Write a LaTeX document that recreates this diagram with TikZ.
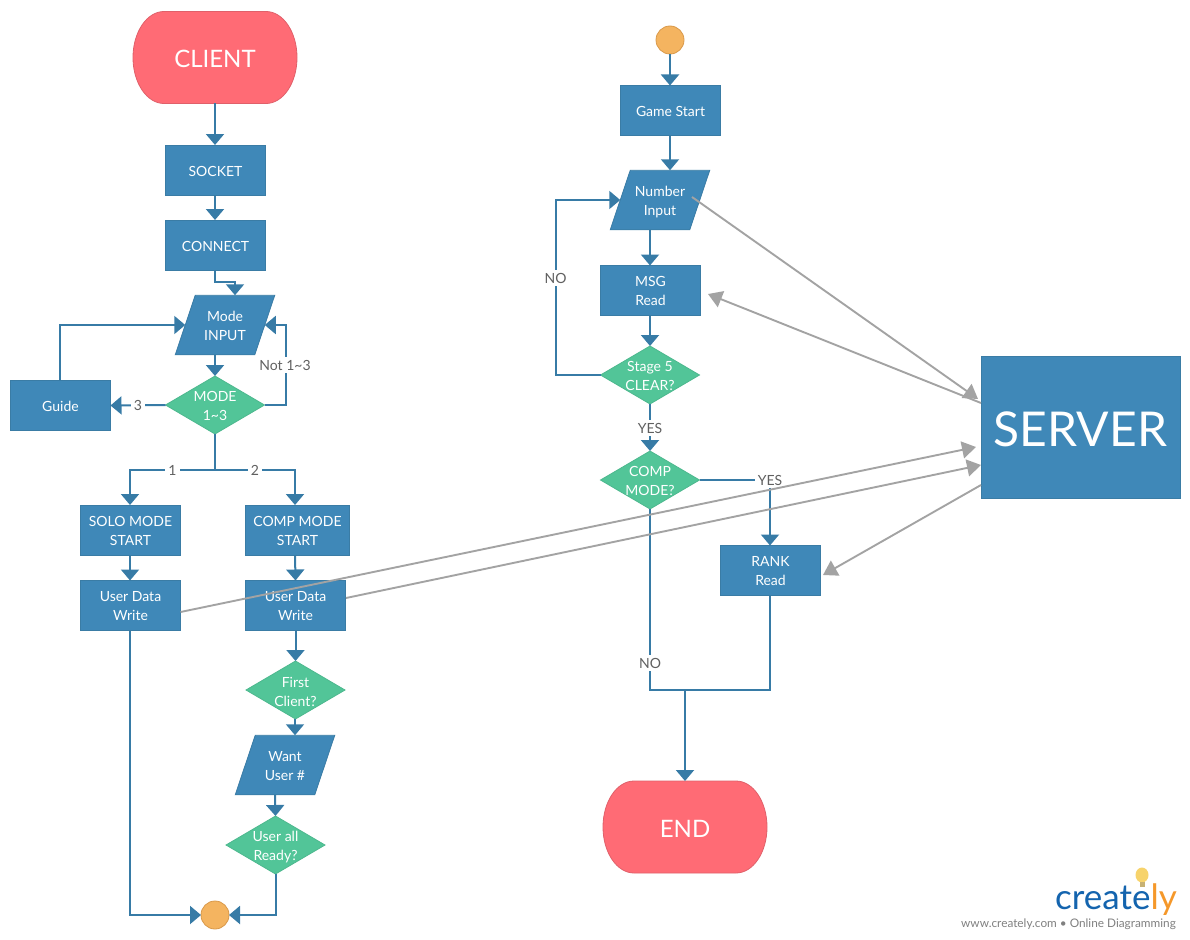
\documentclass[tikz,border=0pt]{standalone}
\usepackage{fontspec}
\setmainfont{Lato}
\usetikzlibrary{arrows.meta,shapes.geometric}
\definecolor{boxblue}{HTML}{3F88B8}
\definecolor{boxedge}{HTML}{3A7CA5}
\definecolor{linkblue}{HTML}{377BA6}
\definecolor{decgreen}{HTML}{52C598}
\definecolor{decedge}{HTML}{4DB88E}
\definecolor{termred}{HTML}{FF6B75}
\definecolor{termedge}{HTML}{E0606A}
\definecolor{dotorange}{HTML}{F4B460}
\definecolor{dotedge}{HTML}{D9994A}
\definecolor{greyline}{HTML}{A3A3A3}
\definecolor{labelgrey}{HTML}{606060}
\definecolor{logoblue}{HTML}{1464AE}
\definecolor{logoorange}{HTML}{F5982A}
\definecolor{bulb}{HTML}{F7D36B}
\newcommand\twol[3][-6pt]{\raisebox{#1}[0pt][0pt]{\begin{tabular}[c]{@{}c@{}}#2\\#3\end{tabular}}}
\newdimen\shpxa \newdimen\shpya \newdimen\shpxb \newdimen\shpyb
\makeatletter
\pgfdeclareshape{paragram}{
  \inheritsavedanchors[from=rectangle]
  \inheritanchorborder[from=rectangle]
  \inheritanchor[from=rectangle]{center}
  \inheritanchor[from=rectangle]{north}
  \inheritanchor[from=rectangle]{south}
  \inheritanchor[from=rectangle]{east}
  \inheritanchor[from=rectangle]{west}
  \backgroundpath{
    \southwest \shpxa=\pgf@x \shpya=\pgf@y
    \northeast \shpxb=\pgf@x \shpyb=\pgf@y
    \pgfpathmoveto{\pgfqpoint{\shpxa}{\shpya}}
    \pgfpathlineto{\pgfpoint{\shpxa+20pt}{\shpyb}}
    \pgfpathlineto{\pgfqpoint{\shpxb}{\shpyb}}
    \pgfpathlineto{\pgfpoint{\shpxb-20pt}{\shpya}}
    \pgfpathclose
  }
}
\pgfdeclareshape{termshape}{
  \inheritsavedanchors[from=rectangle]
  \inheritanchorborder[from=rectangle]
  \inheritanchor[from=rectangle]{center}
  \inheritanchor[from=rectangle]{north}
  \inheritanchor[from=rectangle]{south}
  \inheritanchor[from=rectangle]{east}
  \inheritanchor[from=rectangle]{west}
  \backgroundpath{
    \southwest \shpxa=\pgf@x \shpya=\pgf@y
    \northeast \shpxb=\pgf@x \shpyb=\pgf@y
    \pgfpathmoveto{\pgfpoint{\shpxa+31pt}{\shpyb}}
    \pgfpathlineto{\pgfpoint{\shpxb-31pt}{\shpyb}}
    \pgfpatharc{90}{-90}{31pt and 46pt}
    \pgfpathlineto{\pgfpoint{\shpxa+31pt}{\shpya}}
    \pgfpatharc{270}{90}{31pt and 46pt}
    \pgfpathclose
  }
}
\makeatother
\tikzset{
  dropby/.style={execute at begin node={\rule{0pt}{#1}}},
  basenode/.style={inner sep=0pt,outer sep=0pt,text=white,font=\fontsize{14}{19}\selectfont,line width=0.8pt},
  stepbox/.style={basenode,rectangle,fill=boxblue,draw=boxedge,minimum width=#1,minimum height=50pt},
  stepbox/.default=100pt,
  iobox/.style={basenode,shape=paragram,fill=boxblue,draw=boxedge,minimum width=99.5pt,minimum height=59.5pt},
  decbox/.style={basenode,diamond,aspect=1.7,fill=decgreen,draw=decedge,minimum width=99pt,minimum height=58pt},
  termbox/.style={basenode,shape=termshape,fill=termred,draw=termedge,minimum width=164pt,minimum height=92pt,font=\fontsize{24}{30}\selectfont,dropby=21pt},
  dotbox/.style={circle,inner sep=0pt,outer sep=0pt,minimum size=28pt,fill=dotorange,draw=dotedge,line width=0.8pt},
  link/.style={draw=linkblue,line width=2pt,-{Triangle[width=18pt,length=11pt]}},
  plainlink/.style={draw=linkblue,line width=2pt},
  greylink/.style={draw=greyline,line width=1.9pt,-{Triangle[width=17pt,length=14pt]}},
  linklabel/.style={inner sep=3pt,fill=white,text=labelgrey,font=\fontsize{14}{17}\selectfont},
}
\begin{document}
\begin{tikzpicture}[x=1pt,y=-1pt]
\useasboundingbox (0,0) rectangle (1190,939);
% left column nodes
\node[termbox] (client) at (215,57.5) {CLIENT};
\node[stepbox,dropby=13pt] (socket) at (215.5,170) {SOCKET};
\node[stepbox,dropby=13pt] (connect) at (215.5,245) {CONNECT};
\node[iobox] (mode) at (225,325) {\twol{Mode}{INPUT}};
\node[decbox] (mode13) at (215,405) {\twol{MODE}{1\textasciitilde 3}};
\node[stepbox,dropby=13pt] (guide) at (60.5,405.5) {Guide};
\node[stepbox] (solo) at (130.5,530) {\twol{SOLO MODE}{START}};
\node[stepbox=104pt] (comp) at (297.5,530) {\twol{COMP MODE}{START}};
\node[stepbox] (write1) at (130.5,605.5) {\twol[-5pt]{User Data}{Write}};
\node[stepbox] (write2) at (295.5,605.5) {\twol[-5pt]{User Data}{Write}};
\node[decbox] (first) at (295.5,690) {\twol[-7pt]{First}{Client?}};
\node[iobox] (want) at (285,765) {\twol{Want}{User \#}};
\node[decbox] (ready) at (275.5,845) {\twol{User all}{Ready?}};
\node[dotbox] (join) at (215,915) {};
% right column nodes
\node[dotbox] (startdot) at (670,40) {};
\node[stepbox,dropby=13pt] (game) at (670.5,110.5) {Game Start};
\node[iobox] (number) at (660,200) {\twol{Number}{Input}};
\node[stepbox] (msg) at (650.5,290.5) {\twol[-5pt]{MSG}{Read}};
\node[decbox] (stage) at (650,375) {\twol{Stage 5}{CLEAR?}};
\node[decbox] (compmode) at (650,480) {\twol{COMP}{MODE?}};
\node[stepbox] (rank) at (770.5,570.5) {\twol[-5pt]{RANK}{Read}};
\node[termbox] (endnode) at (685,827) {END};
\node[basenode,rectangle,fill=boxblue,draw=boxedge,minimum width=199pt,minimum height=142pt,font=\fontsize{48}{56}\selectfont,dropby=39pt] (server) at (1080.5,427) {SERVER};
% connectors, left column
\draw[link] (client.south) -- (socket.north -| client.south);
\draw[link] (socket.south -| client.south) -- (connect.north -| client.south);
\draw[link] (connect.south -| client.south) |- ([yshift=13pt,xshift=10pt]mode.north) -- ([xshift=10pt]mode.north);
\draw[link] ([xshift=-10pt]mode.south) -- (mode13.north);
\draw[link] (mode13.west) -- (guide.east);
\draw[link] ([xshift=-0.5pt]guide.north) |- ([xshift=10pt]mode.west);
\draw[link] (mode13.east) -- ++(21,0) |- ([xshift=-10pt]mode.east);
\coordinate (fork) at ([yshift=-36pt]mode13.south);
\draw[plainlink] (mode13.south) -- (fork);
\draw[link] (fork) -| ([xshift=-0.5pt]solo.north);
\draw[link] (fork) -| ([xshift=-2.5pt]comp.north);
\draw[link] ([xshift=-0.5pt]solo.south) -- ([xshift=-0.5pt]write1.north);
\draw[link] ([xshift=-2.5pt]comp.south) -- (write2.north);
\draw[link] (write2.south) -- (first.north);
\draw[link] ([xshift=-0.5pt]first.south) -- ([xshift=10pt]want.north);
\draw[link] ([xshift=-10pt]want.south) -- (ready.north);
\draw[link] (ready.south) -- ++(0,12) -- ++(0.5,0) |- (join.east);
\draw[link] ([xshift=-0.5pt]write1.south) |- (join.west);
% connectors, right column
\draw[link] (startdot.south) -- (game.north -| startdot.south);
\draw[link] (game.south -| startdot.south) -- (number.north -| startdot.south);
\draw[link] ([xshift=-10pt]number.south) -- (msg.north -| stage.north);
\draw[link] (msg.south -| stage.north) -- (stage.north);
\draw[link] (stage.west) -- ++(-45,0) |- ([xshift=10pt]number.west);
\draw[link] (stage.south) -- (compmode.north);
\draw[link] (compmode.east) -| ([xshift=-0.5pt]rank.north);
\coordinate (merge) at ([yshift=-94pt,xshift=-0.5pt]rank.south);
\draw[plainlink] ([xshift=-0.5pt]rank.south) -- (merge) -- (merge -| compmode.south) -- (compmode.south);
\draw[link] (merge -| endnode.north) -- (endnode.north);
% labels
\node[linklabel] (l3) at (138,405) {3};
\node[linklabel] (lnot) at (285,365) {Not 1\textasciitilde 3};
\node[linklabel] (l1) at (172.5,470) {1};
\node[linklabel] (l2) at (255,470) {2};
\node[linklabel] (lno1) at (555.5,278) {NO};
\node[linklabel] (lyes1) at (650,428) {YES};
\node[linklabel] (lyes2) at (770,480) {YES};
\node[linklabel] (lno2) at (650,663) {NO};
% server links
\coordinate (numout) at (692,197);
\coordinate (srvA) at (978,399);
\coordinate (srvB) at (981,403);
\coordinate (msgin) at (708,294);
\coordinate (srvC) at (976,447);
\coordinate (srvD) at (981,465);
\coordinate (w2out) at (346,598);
\coordinate (srvE) at (981,485);
\coordinate (rankin) at (823,575);
\draw[greylink] (numout) -- (srvA);
\draw[greylink] (srvB) -- (msgin);
\draw[greylink] ([yshift=-6.5pt]write1.east) -- (srvC);
\draw[greylink] (w2out) -- (srvD);
\draw[greylink] (srvE) -- (rankin);
% logo
\fill[bulb] (1142,875) ellipse[x radius=6.5pt,y radius=7.5pt];
\fill[bulb!60!gray] (1139.5,882) rectangle (1144.5,887);
\node[inner sep=0pt,anchor=base east,font=\fontsize{35}{40}\selectfont] (logo) at (1177,909) {\textcolor{logoblue}{create}\textcolor{logoorange}{ly}};
\node[inner sep=0pt,anchor=base east,text=black!50,font=\fontsize{11.8}{14}\selectfont] (tag) at (1176,927) {www.creately.com • Online Diagramming};
\end{tikzpicture}
\end{document}
